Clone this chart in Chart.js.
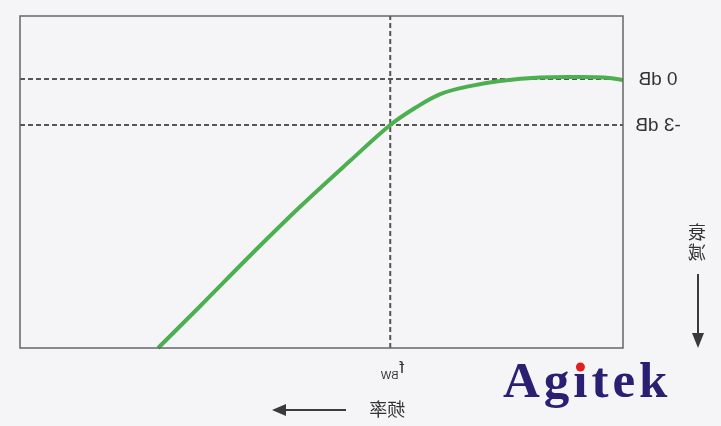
<!DOCTYPE html>
<html>
<head>
<meta charset="utf-8">
<script src="https://cdn.jsdelivr.net/npm/chart.js@4"></script>
<style>
  html, body { margin: 0; padding: 0; background: #f5f5f7; }
  #wrap { width: 721px; height: 426px; position: relative; }
</style>
</head>
<body>
<div id="wrap"><canvas id="c" width="721" height="426"></canvas></div>
<script>
// ---- data ----
const freq = [22.9, 29.9, 38.1, 46.4, 54.7, 61.4, 65.5, 69.7, 74.6, 79.6, 86.2, 92.9, 97.8, 100];
const gainDb = [-17.54, -14.8, -11.54, -8.35, -5.35, -3.0, -1.89, -0.98, -0.46, -0.13, 0.1, 0.13, 0.07, -0.07];
const refLevelsDb = [0, -3];
const refLabels = ['0 dB', '-3 dB'];
const fBW = [61.4];
const xRange = [0, 100];
const yRange = [-17.54, 4.11];
const xAxisLabel = '频率';
const yAxisLabel = ['衰', '减'];
const fLabel = 'f';
const fSub = 'BW';
const brand = 'Agitek';

const curve = freq.map((f, i) => ({ x: f, y: gainDb[i] }));

const dashStyle = {
  borderColor: '#555',
  borderWidth: 2,
  borderDash: [5, 3],
  pointRadius: 0,
  tension: 0,
  fill: false,
  order: 2,
  clip: false
};

const datasets = [
  {
    label: 'response',
    data: curve,
    borderColor: '#4caf50',
    borderWidth: 4,
    pointRadius: 0,
    tension: 0.35,
    fill: false,
    order: 0,
    clip: false
  }
];
refLevelsDb.forEach(v => datasets.push(Object.assign({ label: 'ref' + v, data: [{ x: xRange[0], y: v }, { x: xRange[1], y: v }] }, dashStyle)));
fBW.forEach(v => datasets.push(Object.assign({ label: 'fbw', data: [{ x: v, y: yRange[0] }, { x: v, y: yRange[1] }] }, dashStyle)));

function mirroredText(ctx, text, x, y, font, color) {
  ctx.save();
  ctx.translate(x, y);
  ctx.scale(-1, 1);
  ctx.font = font;
  ctx.fillStyle = color;
  ctx.textAlign = 'center';
  ctx.textBaseline = 'middle';
  ctx.fillText(text, 0, 0);
  ctx.restore();
}

const decor = {
  id: 'decor',
  afterDatasetsDraw(chart) {
    const ctx = chart.ctx;
    const a = chart.chartArea;
    const xs = chart.scales.x, ys = chart.scales.y;
    // frame
    ctx.save();
    ctx.strokeStyle = '#666';
    ctx.lineWidth = 1.5;
    ctx.strokeRect(a.left, a.top, a.right - a.left, a.bottom - a.top);
    ctx.restore();

    // level labels (mirrored, as in the reference)
    refLevelsDb.forEach((v, i) => {
      mirroredText(ctx, refLabels[i], a.right + 35, ys.getPixelForValue(v) + 1, '19px "Liberation Sans", Arial, sans-serif', '#333');
    });

    // f_BW label (mirrored)
    const fx = xs.getPixelForValue(fBW[0]);
    ctx.save();
    ctx.translate(fx + 14, 0);
    ctx.scale(-1, 1);
    ctx.fillStyle = '#333';
    ctx.textBaseline = 'alphabetic';
    ctx.textAlign = 'left';
    ctx.font = '17px "Liberation Sans", Arial, sans-serif';
    ctx.fillText(fLabel, 0, 373);
    const fw = ctx.measureText(fLabel).width;
    ctx.font = '11px "Liberation Sans", Arial, sans-serif';
    ctx.fillText(fSub, fw + 1, 379);
    ctx.restore();

    // x label + arrow (mirrored)
    mirroredText(ctx, xAxisLabel, fx - 3, 409, '18px "Noto Sans CJK SC", sans-serif', '#333');
    ctx.save();
    ctx.strokeStyle = '#3a3a3a';
    ctx.fillStyle = '#3a3a3a';
    ctx.lineWidth = 2;
    ctx.beginPath();
    ctx.moveTo(346, 410); ctx.lineTo(282, 410); ctx.stroke();
    ctx.beginPath();
    ctx.moveTo(272, 410); ctx.lineTo(286, 404); ctx.lineTo(286, 416); ctx.closePath(); ctx.fill();
    ctx.restore();

    // y label (vertical stack, mirrored) + arrow
    yAxisLabel.forEach((ch, i) => {
      mirroredText(ctx, ch, 697, 232 + i * 20, '18px "Noto Sans CJK SC", sans-serif', '#333');
    });
    ctx.save();
    ctx.strokeStyle = '#3a3a3a';
    ctx.fillStyle = '#3a3a3a';
    ctx.lineWidth = 2;
    ctx.beginPath();
    ctx.moveTo(698, 274); ctx.lineTo(698, 336); ctx.stroke();
    ctx.beginPath();
    ctx.moveTo(698, 348); ctx.lineTo(692, 333); ctx.lineTo(704, 333); ctx.closePath(); ctx.fill();
    ctx.restore();

    // brand
    ctx.save();
    ctx.font = 'bold 51px "Liberation Serif", "Times New Roman", serif';
    ctx.fillStyle = '#2a2072';
    ctx.textAlign = 'left';
    ctx.textBaseline = 'alphabetic';
    if ('letterSpacing' in ctx) ctx.letterSpacing = '4px';
    const bx = 503, by = 397;
    ctx.fillText(brand, bx, by);
    const pre = ctx.measureText(brand.slice(0, 2)).width;
    const iw = ctx.measureText('i').width;
    ctx.beginPath();
    ctx.fillStyle = '#f5f5f7';
    ctx.arc(bx + pre + (iw - 4) / 2, 367, 5.5, 0, Math.PI * 2);
    ctx.fill();
    ctx.beginPath();
    ctx.fillStyle = '#e02020';
    ctx.arc(bx + pre + (iw - 4) / 2, 367, 4.5, 0, Math.PI * 2);
    ctx.fill();
    ctx.restore();
  }
};

new Chart(document.getElementById('c'), {
  type: 'line',
  data: { datasets },
  options: {
    responsive: false,
    animation: false,
    events: [],
    layout: { padding: { left: 20, top: 16, right: 98, bottom: 78 } },
    plugins: { legend: { display: false }, tooltip: { enabled: false } },
    scales: {
      x: { type: 'linear', display: false, min: xRange[0], max: xRange[1] },
      y: { type: 'linear', display: false, min: yRange[0], max: yRange[1] }
    }
  },
  plugins: [decor]
});
</script>
</body>
</html>
